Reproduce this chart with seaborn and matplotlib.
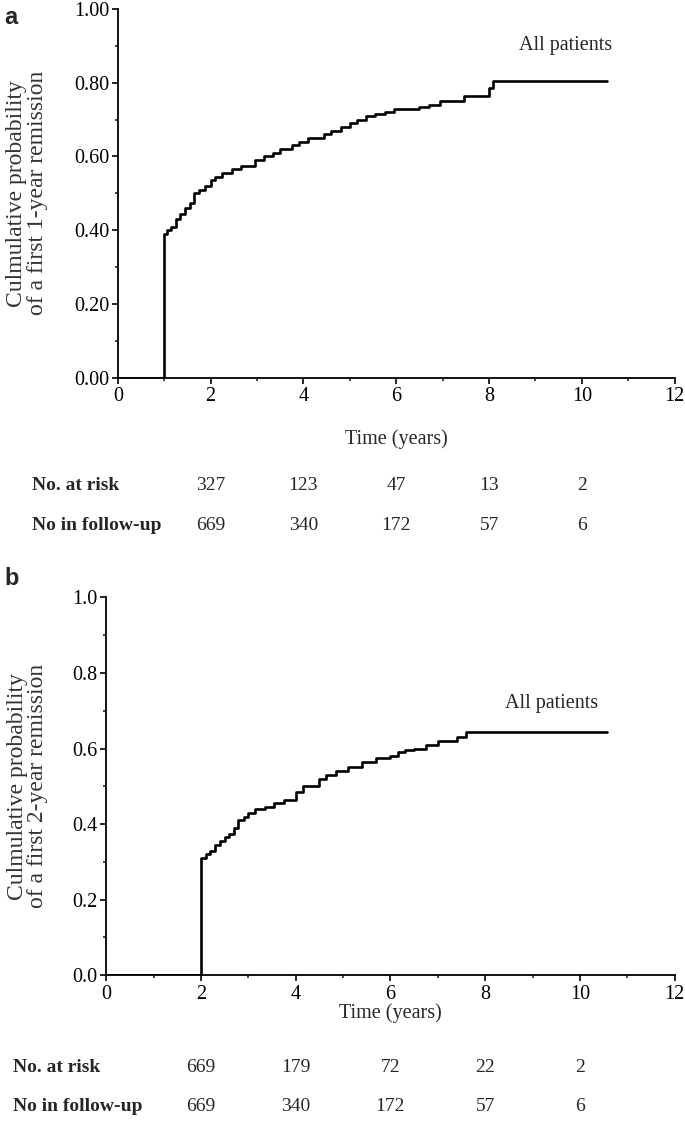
import numpy as np
import pandas as pd
import seaborn as sns
import matplotlib.pyplot as plt
import matplotlib.ticker as ticker
from matplotlib.transforms import blended_transform_factory

# step points (time in years, cumulative probability)
time_a = [0.0, 1.00, 1.06, 1.15, 1.25, 1.35, 1.45, 1.55, 1.65, 1.75, 1.88, 2.00, 2.10, 2.25,
          2.45, 2.65, 2.95, 3.15, 3.35, 3.50, 3.75, 3.90, 4.10, 4.45, 4.60, 4.80, 5.00, 5.15,
          5.35, 5.55, 5.75, 5.95, 6.50, 6.70, 6.95, 7.45, 8.00, 8.08, 10.55]
prob_a = [0.0, 0.39, 0.40, 0.41, 0.43, 0.445, 0.46, 0.475, 0.50, 0.51, 0.52, 0.535, 0.545, 0.555,
          0.565, 0.575, 0.59, 0.60, 0.61, 0.62, 0.63, 0.64, 0.65, 0.66, 0.67, 0.68, 0.69, 0.70,
          0.71, 0.715, 0.72, 0.73, 0.735, 0.74, 0.75, 0.765, 0.785, 0.805, 0.805]

time_b = [0.0, 2.00, 2.10, 2.20, 2.30, 2.40, 2.50, 2.60, 2.70, 2.78, 2.90, 3.00, 3.15, 3.35,
          3.55, 3.75, 4.00, 4.15, 4.50, 4.65, 4.85, 5.10, 5.40, 5.70, 6.00, 6.15, 6.30, 6.50,
          6.75, 7.00, 7.40, 7.60, 10.57]
prob_b = [0.0, 0.31, 0.32, 0.33, 0.345, 0.355, 0.365, 0.375, 0.39, 0.41, 0.42, 0.43, 0.44, 0.445,
          0.455, 0.465, 0.485, 0.50, 0.52, 0.53, 0.54, 0.55, 0.565, 0.575, 0.58, 0.59, 0.595, 0.60,
          0.61, 0.62, 0.63, 0.643, 0.643]

# numbers under the x axis
table_years = [2, 4, 6, 8, 10]
at_risk_a = [327, 123, 47, 13, 2]
follow_a = [669, 340, 172, 57, 6]
at_risk_b = [669, 179, 72, 22, 2]
follow_b = [669, 340, 172, 57, 6]

sns.set_style('ticks')
plt.rcParams['font.family'] = ['Liberation Serif', 'DejaVu Serif']
plt.rcParams['font.size'] = 14

fig = plt.figure(figsize=(6.85, 11.21), dpi=100)


def panel(rect, t, p, ylabel, yfmt, text_xy, xlab_y, ylab_x, row_x, row_y, risk, follow):
    ax = fig.add_axes(rect)
    df = pd.DataFrame({'t': t, 'p': p})
    sns.lineplot(data=df, x='t', y='p', drawstyle='steps-post', color='black', lw=1.9,
                 estimator=None, ax=ax)
    ax.set_xlim(0, 12)
    ax.set_ylim(0, 1)
    ax.xaxis.set_major_locator(ticker.MultipleLocator(2))
    ax.xaxis.set_minor_locator(ticker.MultipleLocator(1))
    ax.yaxis.set_major_locator(ticker.MultipleLocator(0.2))
    ax.yaxis.set_minor_locator(ticker.MultipleLocator(0.1))
    ax.yaxis.set_major_formatter(ticker.FormatStrFormatter(yfmt))
    ax.tick_params(which='major', length=4, width=1.2, pad=2, labelsize=14.5, colors='black')
    ax.tick_params(which='minor', length=2, width=1.2)
    ax.tick_params(axis='x', which='major', pad=3)
    for s in ['top', 'right']:
        ax.spines[s].set_visible(False)
    for s in ['left', 'bottom']:
        ax.spines[s].set_linewidth(1.3)
        ax.spines[s].set_color('black')
    ax.set_xlabel('Time (years)', fontsize=14.5)
    ax.xaxis.set_label_coords(0.5, xlab_y)
    ax.set_ylabel(ylabel, fontsize=17, linespacing=0.95, color='#333333')
    ax.yaxis.label.set_va('center')
    ax.yaxis.set_label_coords(ylab_x, 0.5)
    ax.text(text_xy[0], text_xy[1], 'All patients', ha='center', va='center', fontsize=14.5)

    tr = blended_transform_factory(ax.transData, fig.transFigure)
    fig.text(row_x, row_y[0], 'No. at risk', fontweight='bold', va='center', fontsize=14)
    fig.text(row_x, row_y[1], 'No in follow-up', fontweight='bold', va='center', fontsize=14)
    for yr, r, f in zip(table_years, risk, follow):
        ax.text(yr, row_y[0], str(r), transform=tr, ha='center', va='center', fontsize=14)
        ax.text(yr, row_y[1], str(f), transform=tr, ha='center', va='center', fontsize=14)
    return ax


panel([0.172, 0.663, 0.813, 0.329], time_a, prob_a,
      'Culmulative probability\nof a first 1-year remission', '%.2f',
      (9.65, 0.90), -0.14, -0.163, 0.046, (0.5673, 0.5308), at_risk_a, follow_a)
panel([0.155, 0.130, 0.830, 0.337], time_b, prob_b,
      'Culmulative probability\nof a first 2-year remission', '%.1f',
      (9.4, 0.72), -0.075, -0.139, 0.019, (0.0473, 0.0125), at_risk_b, follow_b)

fig.text(0.006, 0.984, 'a', fontweight='bold', fontsize=17, va='center',
         family=['Liberation Sans', 'DejaVu Sans'])
fig.text(0.006, 0.484, 'b', fontweight='bold', fontsize=17, va='center',
         family=['Liberation Sans', 'DejaVu Sans'])

fig.savefig('out.png', dpi=100)
